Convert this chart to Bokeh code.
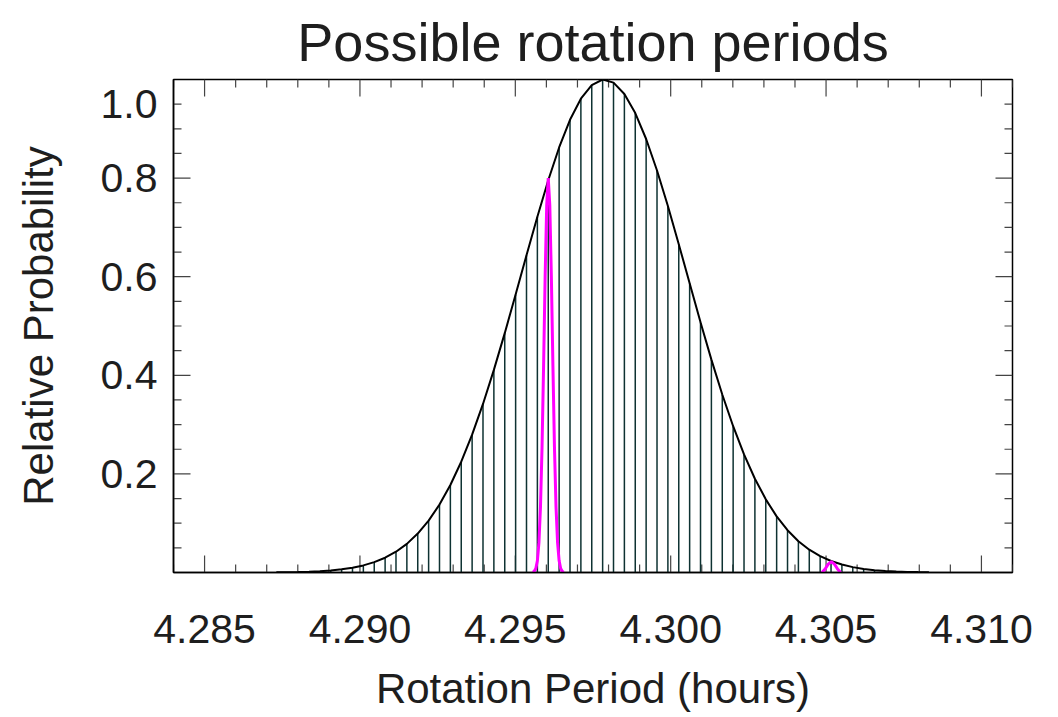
import math
from bokeh.plotting import figure
from bokeh.models import Range1d, LinearAxis, FixedTicker, PrintfTickFormatter, CustomJSTickFormatter
from bokeh.embed import file_html
from bokeh.resources import INLINE

# ---- data ----
period = [4.28731, 4.28766, 4.28801, 4.28836, 4.28871, 4.28906, 4.28941, 4.28976, 4.29011, 4.29046,
          4.29081, 4.29116, 4.29151, 4.29186, 4.29221, 4.29256, 4.29291, 4.29326, 4.29361, 4.29396,
          4.29431, 4.29466, 4.29501, 4.29536, 4.29571, 4.29606, 4.29641, 4.29676, 4.29711, 4.29746,
          4.29781, 4.29816, 4.29851, 4.29886, 4.29921, 4.29956, 4.29991, 4.30026, 4.30061, 4.30096,
          4.30131, 4.30166, 4.30201, 4.30236, 4.30271, 4.30306, 4.30341, 4.30376, 4.30411, 4.30446,
          4.30481, 4.30516, 4.30551, 4.30586, 4.30621, 4.30656, 4.30691, 4.30726, 4.30761, 4.30796,
          4.30831]
probability = [0.0004, 0.0007, 0.0011, 0.0017, 0.0027, 0.0042, 0.0065, 0.0098, 0.0144, 0.0210,
               0.0300, 0.0421, 0.0581, 0.0789, 0.1052, 0.1378, 0.1775, 0.2247, 0.2796, 0.3419,
               0.4110, 0.4855, 0.5638, 0.6434, 0.7217, 0.7956, 0.8621, 0.9182, 0.9611, 0.9888,
               1.0000, 0.9937, 0.9706, 0.9319, 0.8793, 0.8155, 0.7434, 0.6660, 0.5865, 0.5076,
               0.4318, 0.3610, 0.2967, 0.2396, 0.1902, 0.1484, 0.1138, 0.0858, 0.0635, 0.0463,
               0.0331, 0.0233, 0.0161, 0.0109, 0.0073, 0.0048, 0.0031, 0.0020, 0.0012, 0.0008,
               0.0005]

peak1_period = [4.29556, 4.29561, 4.29566, 4.29571, 4.29576, 4.29581, 4.29586, 4.29591, 4.29596, 4.29601,
                4.29606, 4.29611, 4.29616, 4.29621, 4.29626, 4.29631, 4.29636, 4.29641, 4.29646, 4.29651,
                4.29656]
peak1_prob = [0.0006, 0.0024, 0.0081, 0.0238, 0.0605, 0.1331, 0.2538, 0.4194, 0.6004, 0.7446,
              0.8000, 0.7446, 0.6004, 0.4194, 0.2538, 0.1331, 0.0605, 0.0238, 0.0081, 0.0024,
              0.0006]

peak2_period = [4.30487, 4.30497, 4.30507, 4.30517, 4.30527, 4.30537, 4.30547]
peak2_prob = [0.0, 0.007, 0.017, 0.022, 0.017, 0.007, 0.0]

x_major = [4.285, 4.290, 4.295, 4.300, 4.305, 4.310]
x_minor = [4.284, 4.286, 4.287, 4.288, 4.289, 4.291, 4.292, 4.293, 4.294,
           4.296, 4.297, 4.298, 4.299, 4.301, 4.302, 4.303, 4.304,
           4.306, 4.307, 4.308, 4.309, 4.311]
y_major = [0.2, 0.4, 0.6, 0.8]
y_minor = [0.05, 0.10, 0.15, 0.25, 0.30, 0.35, 0.45, 0.50, 0.55, 0.65, 0.70,
           0.75, 0.85, 0.90, 0.95]
y_label_ticks = [0.2, 0.4, 0.6, 0.8, 0.95]   # top label "1.0" sits at the 0.95 minor tick

X0, X1 = 4.284, 4.311
Y0, Y1 = 0.0, 1.0

FONT = "Liberation Sans"
TXT = "#1e1e1e"
TICK = "#444444"

p = figure(width=1058, height=717, output_backend="svg", toolbar_location=None,
           x_range=Range1d(X0, X1), y_range=Range1d(Y0, Y1),
           x_axis_type=None, y_axis_type=None,
           min_border_left=173, min_border_right=46, min_border_top=79, min_border_bottom=145)
p.background_fill_color = "white"
p.border_fill_color = "white"
p.outline_line_color = "black"
p.outline_line_width = 1.5
p.xgrid.visible = False
p.ygrid.visible = False


def label_axis(ax):
    ax.major_tick_in = 0
    ax.major_tick_out = 0
    ax.minor_tick_in = 0
    ax.minor_tick_out = 0
    ax.axis_line_color = "black"
    ax.axis_line_width = 1.5
    ax.major_label_text_font = FONT
    ax.major_label_text_font_size = "41px"
    ax.major_label_text_color = TXT
    ax.axis_label_text_font = FONT
    ax.axis_label_text_font_size = "42px"
    ax.axis_label_text_font_style = "normal"
    ax.axis_label_text_color = TXT


xb = LinearAxis(ticker=FixedTicker(ticks=x_major, minor_ticks=[]),
                formatter=PrintfTickFormatter(format="%.3f"))
label_axis(xb)
xb.axis_label = "Rotation Period (hours)"
xb.major_label_standoff = 42
xb.axis_label_standoff = 19
p.add_layout(xb, "below")

yl = LinearAxis(ticker=FixedTicker(ticks=y_label_ticks, minor_ticks=[]),
                formatter=CustomJSTickFormatter(code="return tick > 0.9 ? '1.0' : tick.toFixed(1);"))
label_axis(yl)
yl.axis_label = "Relative Probability"
yl.major_label_standoff = 16
yl.axis_label_standoff = 36
p.add_layout(yl, "left")

# inward tick marks on all four sides
nx_maj, nx_min = len(x_major), len(x_minor)
ny_maj, ny_min = len(y_major), len(y_minor)
tick_kw = dict(length_units="screen", line_color=TICK, line_width=1.2)
p.ray(x=x_major, y=[Y0] * nx_maj, length=17, angle=math.pi / 2, **tick_kw)
p.ray(x=x_minor, y=[Y0] * nx_min, length=8, angle=math.pi / 2, **tick_kw)
p.ray(x=x_major, y=[Y1] * nx_maj, length=17, angle=-math.pi / 2, **tick_kw)
p.ray(x=x_minor, y=[Y1] * nx_min, length=8, angle=-math.pi / 2, **tick_kw)
p.ray(x=[X0] * ny_maj, y=y_major, length=17, angle=0.0, **tick_kw)
p.ray(x=[X0] * ny_min, y=y_minor, length=8, angle=0.0, **tick_kw)
p.ray(x=[X1] * ny_maj, y=y_major, length=17, angle=math.pi, **tick_kw)
p.ray(x=[X1] * ny_min, y=y_minor, length=8, angle=math.pi, **tick_kw)

p.title.text = "Possible rotation periods"
p.title.align = "center"
p.title.text_font = FONT
p.title.text_font_size = "54px"
p.title.text_font_style = "normal"
p.title.text_color = TXT
p.title.standoff = 15

p.segment(x0=period, y0=[0.0] * len(period), x1=period, y1=probability,
          line_color="#0e3232", line_width=1.5)
p.line(period, probability, line_color="black", line_width=2)
p.line(peak1_period, peak1_prob, line_color="#ff00ff", line_width=3)
p.line(peak2_period, peak2_prob, line_color="#ff00ff", line_width=3)

open("out.html", "w").write(file_html(p, INLINE))
